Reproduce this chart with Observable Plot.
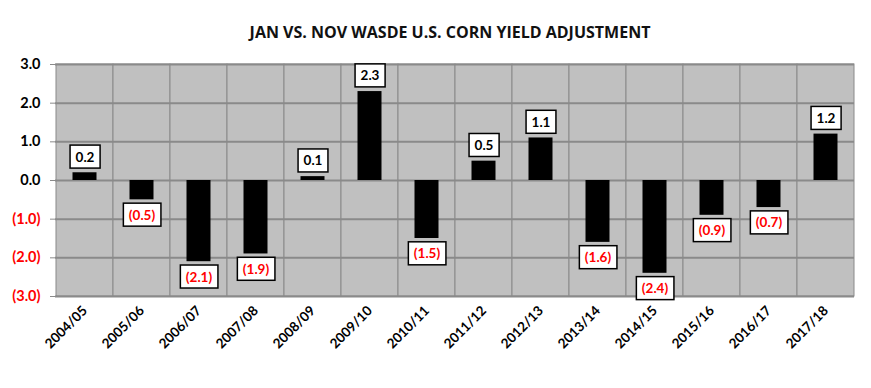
<!DOCTYPE html>
<html>
<head>
<meta charset="utf-8">
<script src="https://cdn.jsdelivr.net/npm/d3@7"></script>
<script src="https://cdn.jsdelivr.net/npm/@observablehq/plot@0.6"></script>
<style>
  html, body { margin: 0; padding: 0; background: #fff; }
  #title { height: 50px; line-height: 64px; text-align: center; font-family: "Open Sans", Lato, sans-serif; font-weight: bold; font-size: 16px; color: #111; padding-left: 29px; box-sizing: border-box; }
  #chart svg { display: block; }
</style>
</head>
<body>
<div id="title">JAN VS. NOV WASDE U.S. CORN YIELD ADJUSTMENT</div>
<div id="chart"></div>
<script>
const years = ["2004/05","2005/06","2006/07","2007/08","2008/09","2009/10","2010/11","2011/12","2012/13","2013/14","2014/15","2015/16","2016/17","2017/18"];
const adjustments = [0.2, -0.5, -2.1, -1.9, 0.1, 2.3, -1.5, 0.5, 1.1, -1.6, -2.4, -0.9, -0.7, 1.2];
const yTicks = [-3, -2, -1, 0, 1, 2, 3];

const data = years.map((year, i) => ({year, value: adjustments[i]}));
const fmt = v => v < 0 ? `(${(-v).toFixed(1)})` : v.toFixed(1);
const gridColor = "#8a8a8a";
const font = "Lato, 'Open Sans', sans-serif";

const plot = Plot.plot({
  width: 871,
  height: 338,
  marginTop: 14,
  marginBottom: 92,
  marginLeft: 55,
  marginRight: 17,
  style: {fontFamily: font, fontSize: "13px", background: "#fff"},
  x: {domain: years, padding: 0, label: null},
  y: {domain: [-3, 3], label: null},
  marks: [
    Plot.barY(years, {x: d => d, y1: -3, y2: 3, fill: "#c0c0c0", stroke: gridColor, strokeWidth: 1, inset: 0}),
    Plot.ruleY(yTicks, {stroke: gridColor, strokeWidth: 2}),
    Plot.barY(data, {x: "year", y: "value", fill: "#000", insetLeft: 16.5, insetRight: 16.5}),
    Plot.axisY(yTicks.filter(d => d >= 0), {tickSize: 5, stroke: gridColor, tickPadding: 10, tickFormat: fmt, fill: "#000", fontWeight: "bold", fontSize: 14.5, label: null}),
    Plot.axisY(yTicks.filter(d => d < 0), {tickSize: 5, stroke: gridColor, tickPadding: 10, tickFormat: fmt, fill: "#ff0000", fontWeight: "bold", fontSize: 14.5, label: null}),
    Plot.axisX({tickSize: 0, tickPadding: 12, tickRotate: -45, fontWeight: "bold", fontSize: 13.5, fill: "#000", label: null}),
    Plot.text(data.filter(d => d.value >= 0), {x: "year", y: "value", text: d => fmt(d.value), dy: -15.5, fill: "#000", fontWeight: "bold", fontSize: 13.5, lineAnchor: "middle", className: "vlabel"}),
    Plot.text(data.filter(d => d.value < 0), {x: "year", y: "value", text: d => fmt(d.value), dy: 15.5, fill: "#ff0000", fontWeight: "bold", fontSize: 13.5, lineAnchor: "middle", className: "vlabel"})
  ]
});
document.getElementById("chart").appendChild(plot);

// white boxes behind value labels
d3.select(plot).selectAll("g.vlabel").each(function() {
  const g = d3.select(this);
  g.selectAll("text").each(function() {
    const t = this;
    const b = t.getBBox();
    const tr = t.getAttribute("transform");
    const r = document.createElementNS("http://www.w3.org/2000/svg", "rect");
    const w = b.width + 11, h = 23;
    r.setAttribute("x", b.x + b.width / 2 - w / 2);
    r.setAttribute("y", b.y + b.height / 2 - h / 2);
    r.setAttribute("width", w);
    r.setAttribute("height", h);
    r.setAttribute("fill", "#fff");
    r.setAttribute("stroke", "#000");
    r.setAttribute("stroke-width", 1.5);
    if (tr) r.setAttribute("transform", tr);
    t.parentNode.insertBefore(r, t);
  });
});
</script>
</body>
</html>
